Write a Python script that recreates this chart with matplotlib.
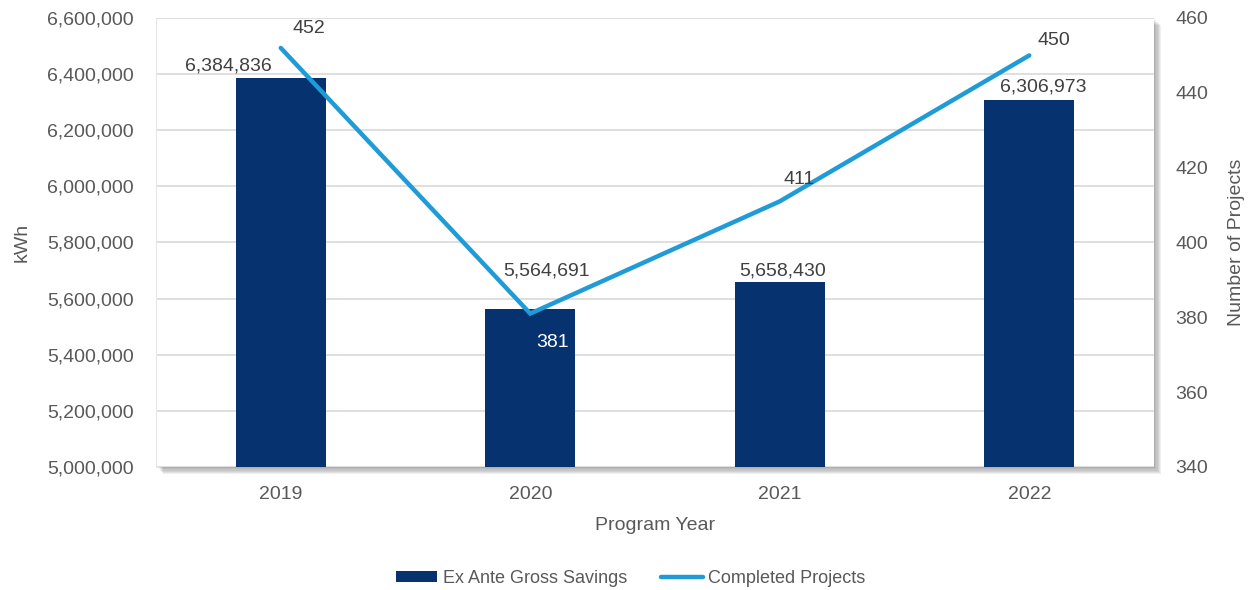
import numpy as np
import matplotlib.pyplot as plt
from matplotlib.patches import Rectangle
from matplotlib.ticker import FuncFormatter

plt.rcParams['font.family'] = ['Liberation Sans', 'DejaVu Sans']

years = ['2019', '2020', '2021', '2022']
savings_kwh = [6384836, 5564691, 5658430, 6306973]
projects = [452, 381, 411, 450]

# label offsets in points (x, y) relative to bar top / line point
bar_label_offsets = [(-38, 9), (12, 27), (2, 8), (10, 9.5)]
proj_label_offsets = [(20, 14), (16, -21), (14, 16), (18, 11)]

navy = '#06336f'
blue = '#1f9bd7'
grey_txt = '#595959'

fig = plt.figure(figsize=(12.51, 5.9), dpi=100)
ax = fig.add_axes([0.1247, 0.2085, 0.7978, 0.761])

# soft drop shadow behind the plot area (right and bottom)
for i in range(6):
    off = (i + 1) * 1.2
    fig.patches.append(Rectangle((0.1247 + off / 1251, 0.2085 - off / 590),
                                 0.7978, 0.761, transform=fig.transFigure,
                                 facecolor='#000000', alpha=0.06,
                                 edgecolor='none', zorder=-5))
ax.set_zorder(1)
ax.patch.set_facecolor('white')

x = np.arange(len(years))
ax.bar(x, savings_kwh, width=0.36, color=navy, zorder=3,
       label='Ex Ante Gross Savings')
ax.set_ylim(5000000, 6600000)
ax.set_xlim(-0.5, 3.5)
ax.set_yticks(np.arange(5000000, 6600001, 200000))
ax.yaxis.set_major_formatter(FuncFormatter(lambda v, p: f'{v:,.0f}'))
ax.grid(axis='y', color='#d9d9d9', linewidth=1.2, zorder=0)
ax.set_axisbelow(True)
ax.set_xticks(x)
ax.set_xticklabels(years)
for s in ax.spines.values():
    s.set_visible(False)
ax.spines['left'].set_visible(True)
ax.spines['left'].set_color('#e6e6e6')
ax.tick_params(length=0, labelsize=14, colors=grey_txt)
ax.tick_params(axis='x', pad=14)
ax.tick_params(axis='y', pad=16)
ax.set_ylabel('kWh', fontsize=14, color=grey_txt, labelpad=12)
ax.set_xlabel('Program Year', fontsize=14, color=grey_txt, labelpad=10)

for xi, v, off in zip(x, savings_kwh, bar_label_offsets):
    ax.annotate(f'{v:,}', (xi, v), xytext=off, textcoords='offset points',
                ha='center', va='center', fontsize=14, color='#404040', zorder=5)

ax2 = ax.twinx()
ax2.plot(x, projects, color=blue, linewidth=3.2, zorder=4,
         label='Completed Projects', solid_joinstyle='miter',
         solid_capstyle='round')
ax2.set_ylim(340, 460)
ax2.set_yticks(np.arange(340, 461, 20))
for s in ax2.spines.values():
    s.set_visible(False)
ax2.tick_params(length=0, labelsize=14, colors=grey_txt, pad=15.5)
ax2.set_ylabel('Number of Projects', fontsize=14, color=grey_txt, labelpad=14)

for i, (xi, v, off) in enumerate(zip(x, projects, proj_label_offsets)):
    c = 'white' if i == 1 else '#404040'
    ax2.annotate(f'{v}', (xi, v), xytext=off, textcoords='offset points',
                 ha='center', va='center', fontsize=14, color=c, zorder=6)

h1, l1 = ax.get_legend_handles_labels()
h2, l2 = ax2.get_legend_handles_labels()
fig.legend(h1 + h2, l1 + l2, loc='center', bbox_to_anchor=(0.504, 0.02),
           ncol=2, frameon=False, fontsize=13, handlelength=2.3,
           handleheight=0.55, handletextpad=0.3, columnspacing=1.9,
           labelcolor=grey_txt)

fig.savefig('out.png', dpi=100)
